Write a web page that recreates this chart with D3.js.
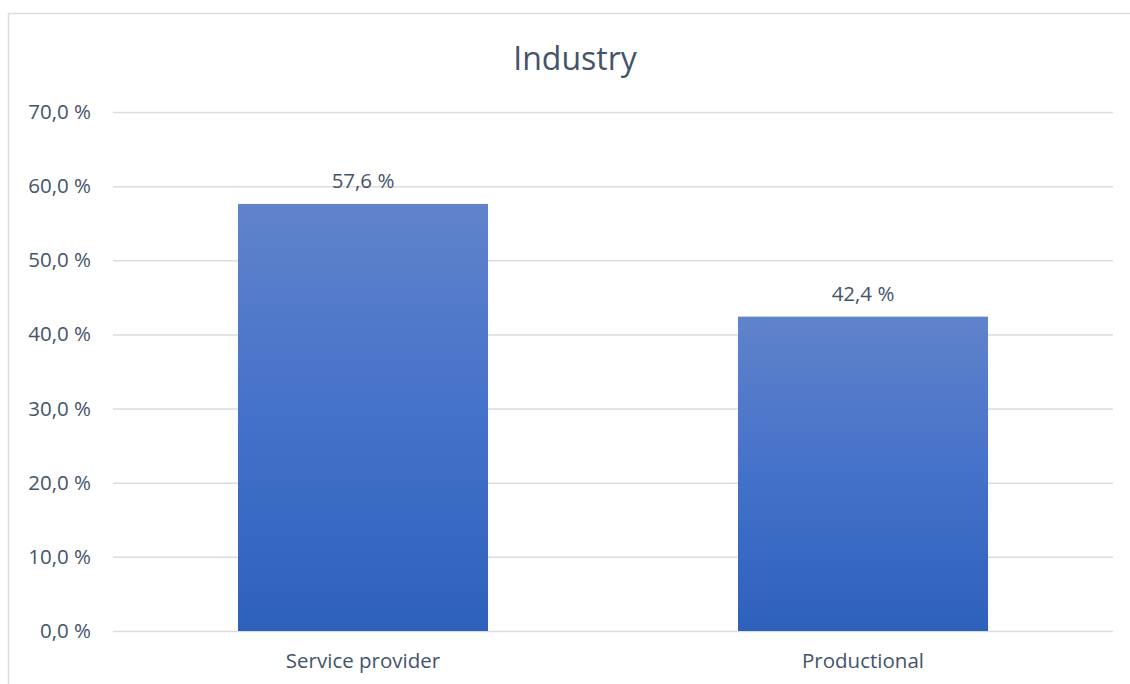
<!DOCTYPE html>
<html>
<head>
<meta charset="utf-8">
<script src="https://cdnjs.cloudflare.com/ajax/libs/d3/7.8.5/d3.min.js"></script>
<style>
  body { margin: 0; background: #fff; }
  svg { display: block; }
  svg text { font-family: "Open Sans", "Noto Sans", sans-serif; }
</style>
</head>
<body>
<svg id="chart"></svg>
<script>
var categories = ["Service provider", "Productional"];
var values = [57.6, 42.4];
var yTicks = [0, 10, 20, 30, 40, 50, 60, 70];

var width = 1130, height = 684;
var margin = {left: 113, right: 17, top: 112, bottom: 53};
var textColor = "#44546a";
var fontSize = "20.5px";

var svg = d3.select("#chart")
    .attr("width", width)
    .attr("height", height);

// chart border (runs off the right and bottom edge)
svg.append("rect")
    .attr("x", 8.5).attr("y", 13.5)
    .attr("width", 1140).attr("height", 700)
    .attr("fill", "none")
    .attr("stroke", "#d9dde3")
    .attr("stroke-width", 1.5);

var x = d3.scaleBand()
    .domain(categories)
    .range([margin.left, width - margin.right])
    .paddingInner(0.5)
    .paddingOuter(0.25);

var y = d3.scaleLinear()
    .domain([0, 70])
    .range([height - margin.bottom, margin.top]);

var fmt = function(v) { return d3.format(".1f")(v).replace(".", ",") + " %"; };

// gradient for bars
var grad = svg.append("defs").append("linearGradient")
    .attr("id", "barGrad")
    .attr("x1", 0).attr("y1", 0).attr("x2", 0).attr("y2", 1);
grad.append("stop").attr("offset", "0%").attr("stop-color", "#6083cb");
grad.append("stop").attr("offset", "50%").attr("stop-color", "#4471ca");
grad.append("stop").attr("offset", "100%").attr("stop-color", "#2e61bb");

// gridlines
var yAxis = d3.axisLeft(y)
    .tickValues(yTicks)
    .tickSize(-(width - margin.left - margin.right))
    .tickPadding(22)
    .tickFormat(fmt);

var gy = svg.append("g")
    .attr("transform", "translate(" + margin.left + ",0)")
    .call(yAxis);
gy.select(".domain").remove();
gy.selectAll(".tick line")
    .attr("stroke", "#d9dde3")
    .attr("stroke-width", 1.5);
gy.selectAll(".tick text")
    .attr("fill", textColor)
    .attr("font-size", fontSize);

// bars
svg.selectAll(".bar")
    .data(values)
    .enter()
    .append("rect")
    .classed("bar", true)
    .attr("x", (d, i) => x(categories[i]))
    .attr("y", d => y(d))
    .attr("width", x.bandwidth())
    .attr("height", d => y(0) - y(d))
    .attr("fill", "url(#barGrad)");

// data labels
svg.selectAll(".val")
    .data(values)
    .enter()
    .append("text")
    .attr("x", (d, i) => x(categories[i]) + x.bandwidth() / 2)
    .attr("y", d => y(d) - 16)
    .attr("text-anchor", "middle")
    .attr("fill", textColor)
    .attr("font-size", fontSize)
    .text(d => fmt(d));

// x axis labels
var xAxis = d3.axisBottom(x).tickSize(0).tickPadding(22);
var gx = svg.append("g")
    .attr("transform", "translate(0," + (height - margin.bottom) + ")")
    .call(xAxis);
gx.select(".domain").remove();
gx.selectAll(".tick text")
    .attr("fill", textColor)
    .attr("font-size", fontSize);

// title
svg.append("text")
    .attr("x", 575)
    .attr("y", 70)
    .attr("text-anchor", "middle")
    .attr("fill", textColor)
    .attr("font-size", "32px")
    .text("Industry");
</script>
</body>
</html>
